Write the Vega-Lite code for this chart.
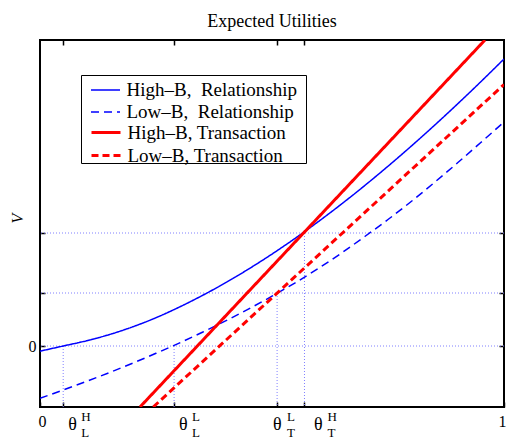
{
  "$schema": "https://vega.github.io/schema/vega-lite/v6.json",
  "width": 464,
  "height": 367,
  "autosize": {"type": "none"},
  "padding": {"left": 40, "top": 40, "right": 2, "bottom": 32},
  "title": {"text": "Expected Utilities", "font": "Liberation Serif", "fontSize": 18, "fontWeight": "normal", "color": "#000", "offset": 8},
  "config": {
    "view": {"stroke": "#000", "strokeWidth": 2},
    "axis": {"domain": false, "grid": false, "tickColor": "#000", "tickSize": -5, "tickWidth": 1.5, "labelFont": "Liberation Serif", "labelFontSize": 16, "labelColor": "#000", "titleColor": "#000"},
    "text": {"font": "Liberation Serif", "color": "#000", "align": "left", "baseline": "alphabetic"}
  },
  "resolve": {"scale": {"strokeDash": "independent", "color": "independent", "stroke": "independent"}},
  "layer": [
    {
      "data": {"values": [{"v": 0}, {"v": 0.53}, {"v": 1.13}]},
      "mark": {"type": "rule", "color": "#8080ff", "strokeDash": [1, 2], "strokeWidth": 1},
      "encoding": {
        "y": {"field": "v", "type": "quantitative", "scale": {"domain": [-0.61, 3.06], "nice": false, "zero": false},
          "axis": {"orient": "left", "values": [0, 0.53, 1.13], "labelExpr": "datum.value == 0 ? '0' : ''", "labelPadding": 9, "labelBaseline": "middle",
            "title": "V", "titleFont": "Liberation Serif", "titleFontSize": 16, "titleFontStyle": "italic", "titleFontWeight": "normal", "titleX": -18, "titleY": 178, "titleBaseline": "alphabetic", "titleAngle": -90}}
      }
    },
    {
      "data": {"values": [{"t": 0.05, "v": 0}, {"t": 0.289, "v": 0}, {"t": 0.511, "v": 0.53}, {"t": 0.57, "v": 1.13}]},
      "mark": {"type": "rule", "color": "#8080ff", "strokeDash": [1, 2], "strokeWidth": 1},
      "encoding": {
        "x": {"field": "t", "type": "quantitative", "scale": {"domain": [0, 1], "nice": false, "zero": false},
          "axis": {"orient": "bottom", "values": [0, 0.05, 0.289, 0.511, 0.57, 1], "labelExpr": "datum.value == 0 ? '0' : datum.value == 1 ? '1' : ''", "labelFlush": true, "labelFlushOffset": 2, "labelPadding": 11, "title": null}},
        "y": {"field": "v", "type": "quantitative", "axis": {"orient": "right", "values": [0, 0.53, 1.13], "labels": false, "title": null}},
        "y2": {"value": "height"}
      }
    },
    {
      "data": {"values": [
        {"s": "High–B,\u00a0 Relationship", "t": 0, "v": -0.052},
        {"s": "High–B,\u00a0 Relationship", "t": 0.05, "v": 0},
        {"s": "High–B,\u00a0 Relationship", "t": 0.1, "v": 0.052},
        {"s": "High–B,\u00a0 Relationship", "t": 0.15, "v": 0.115},
        {"s": "High–B,\u00a0 Relationship", "t": 0.2, "v": 0.192},
        {"s": "High–B,\u00a0 Relationship", "t": 0.25, "v": 0.283},
        {"s": "High–B,\u00a0 Relationship", "t": 0.3, "v": 0.3885},
        {"s": "High–B,\u00a0 Relationship", "t": 0.35, "v": 0.5053},
        {"s": "High–B,\u00a0 Relationship", "t": 0.4, "v": 0.6329},
        {"s": "High–B,\u00a0 Relationship", "t": 0.45, "v": 0.7711},
        {"s": "High–B,\u00a0 Relationship", "t": 0.5, "v": 0.9193},
        {"s": "High–B,\u00a0 Relationship", "t": 0.55, "v": 1.0771},
        {"s": "High–B,\u00a0 Relationship", "t": 0.6, "v": 1.2443},
        {"s": "High–B,\u00a0 Relationship", "t": 0.65, "v": 1.4204},
        {"s": "High–B,\u00a0 Relationship", "t": 0.7, "v": 1.605},
        {"s": "High–B,\u00a0 Relationship", "t": 0.75, "v": 1.7978},
        {"s": "High–B,\u00a0 Relationship", "t": 0.8, "v": 1.9982},
        {"s": "High–B,\u00a0 Relationship", "t": 0.85, "v": 2.2061},
        {"s": "High–B,\u00a0 Relationship", "t": 0.9, "v": 2.421},
        {"s": "High–B,\u00a0 Relationship", "t": 0.95, "v": 2.6424},
        {"s": "High–B,\u00a0 Relationship", "t": 1, "v": 2.87},
        {"s": "Low–B,\u00a0 Relationship", "t": 0, "v": -0.523},
        {"s": "Low–B,\u00a0 Relationship", "t": 0.05, "v": -0.44},
        {"s": "Low–B,\u00a0 Relationship", "t": 0.1, "v": -0.354},
        {"s": "Low–B,\u00a0 Relationship", "t": 0.15, "v": -0.265},
        {"s": "Low–B,\u00a0 Relationship", "t": 0.2, "v": -0.171},
        {"s": "Low–B,\u00a0 Relationship", "t": 0.25, "v": -0.073},
        {"s": "Low–B,\u00a0 Relationship", "t": 0.3, "v": 0.029},
        {"s": "Low–B,\u00a0 Relationship", "t": 0.35, "v": 0.137},
        {"s": "Low–B,\u00a0 Relationship", "t": 0.4, "v": 0.251},
        {"s": "Low–B,\u00a0 Relationship", "t": 0.45, "v": 0.371},
        {"s": "Low–B,\u00a0 Relationship", "t": 0.5, "v": 0.498},
        {"s": "Low–B,\u00a0 Relationship", "t": 0.55, "v": 0.632},
        {"s": "Low–B,\u00a0 Relationship", "t": 0.6, "v": 0.777},
        {"s": "Low–B,\u00a0 Relationship", "t": 0.65, "v": 0.93},
        {"s": "Low–B,\u00a0 Relationship", "t": 0.7, "v": 1.095},
        {"s": "Low–B,\u00a0 Relationship", "t": 0.75, "v": 1.265},
        {"s": "Low–B,\u00a0 Relationship", "t": 0.8, "v": 1.445},
        {"s": "Low–B,\u00a0 Relationship", "t": 0.85, "v": 1.635},
        {"s": "Low–B,\u00a0 Relationship", "t": 0.9, "v": 1.832},
        {"s": "Low–B,\u00a0 Relationship", "t": 0.95, "v": 2.035},
        {"s": "Low–B,\u00a0 Relationship", "t": 1, "v": 2.24}
      ]},
      "mark": {"type": "line", "interpolate": "monotone", "clip": true, "strokeWidth": 1.5},
      "encoding": {
        "x": {"field": "t", "type": "quantitative", "axis": {"orient": "top", "values": [0.05, 0.289, 0.511, 0.57], "labels": false, "title": null}},
        "y": {"field": "v", "type": "quantitative", "axis": null},
        "color": {"field": "s", "type": "nominal",
          "scale": {"domain": ["High–B,\u00a0 Relationship", "Low–B,\u00a0 Relationship"], "range": ["#0000ff", "#0000ff"]},
          "legend": {"orient": "none", "legendX": 41, "legendY": 35, "title": "\u00a0", "titleOrient": "bottom", "titleFontSize": 37, "titlePadding": 1, "strokeColor": "#000", "fillColor": "#fff", "padding": 4,
            "symbolType": "M-1.45,0H1.45", "symbolSize": 400, "symbolOffset": 9.5, "symbolStrokeWidth": 1.5, "labelOffset": 10, "labelFont": "Liberation Serif", "labelFontSize": 19, "labelColor": "#000", "rowPadding": 1, "labelLimit": 400,
            "labelExpr": "datum.label + '\u00a0\u200b'"}},
        "strokeDash": {"field": "s", "type": "nominal",
          "scale": {"domain": ["High–B,\u00a0 Relationship", "Low–B,\u00a0 Relationship"], "range": [[1, 0], [8, 5]]},
          "legend": {"orient": "none", "legendX": 41, "legendY": 35, "title": "\u00a0", "titleOrient": "bottom", "titleFontSize": 37, "titlePadding": 1, "strokeColor": "#000", "fillColor": "#fff", "padding": 4,
            "symbolType": "M-1.45,0H1.45", "symbolSize": 400, "symbolOffset": 9.5, "symbolStrokeWidth": 1.5, "labelOffset": 10, "labelFont": "Liberation Serif", "labelFontSize": 19, "labelColor": "#000", "rowPadding": 1, "labelLimit": 400,
            "labelExpr": "datum.label + '\u00a0\u200b'"}}
      }
    },
    {
      "data": {"values": [
        {"s": "High–B, Transaction", "t": 0.2155, "v": -0.61},
        {"s": "High–B, Transaction", "t": 0.959, "v": 3.06},
        {"s": "Low–B, Transaction", "t": 0.244, "v": -0.61},
        {"s": "Low–B, Transaction", "t": 1, "v": 2.615}
      ]},
      "mark": {"type": "line", "clip": true, "strokeWidth": 3},
      "encoding": {
        "x": {"field": "t", "type": "quantitative", "axis": null},
        "y": {"field": "v", "type": "quantitative", "axis": null},
        "stroke": {"field": "s", "type": "nominal",
          "scale": {"domain": ["High–B, Transaction", "Low–B, Transaction"], "range": ["#ff0000", "#ff0000"]},
          "legend": {"orient": "none", "legendX": 41, "legendY": 77, "title": null, "padding": 4,
            "symbolType": "M-1.45,0H1.45", "symbolSize": 400, "symbolOffset": 9.5, "symbolStrokeWidth": 3, "labelOffset": 10, "labelFont": "Liberation Serif", "labelFontSize": 19, "labelColor": "#000", "rowPadding": 1, "labelLimit": 400}},
        "strokeDash": {"field": "s", "type": "nominal",
          "scale": {"domain": ["High–B, Transaction", "Low–B, Transaction"], "range": [[1, 0], [7, 4]]},
          "legend": {"orient": "none", "legendX": 41, "legendY": 77, "title": null, "padding": 4,
            "symbolType": "M-1.45,0H1.45", "symbolSize": 400, "symbolOffset": 9.5, "symbolStrokeWidth": 3, "labelOffset": 10, "labelFont": "Liberation Serif", "labelFontSize": 19, "labelColor": "#000", "rowPadding": 1, "labelLimit": 400}}
      }
    },
    {
      "data": {"values": [{"t": 0.05}, {"t": 0.289}]},
      "mark": {"type": "text", "dx": 5, "dy": 23, "fontSize": 18},
      "encoding": {"x": {"field": "t", "type": "quantitative", "axis": null}, "y": {"value": "height"}, "text": {"value": "θ"}}
    },
    {
      "data": {"values": [{"t": 0.511}]},
      "mark": {"type": "text", "dx": -4, "dy": 23, "fontSize": 18},
      "encoding": {"x": {"field": "t", "type": "quantitative", "axis": null}, "y": {"value": "height"}, "text": {"value": "θ"}}
    },
    {
      "data": {"values": [{"t": 0.57}]},
      "mark": {"type": "text", "dx": 9.5, "dy": 23, "fontSize": 18},
      "encoding": {"x": {"field": "t", "type": "quantitative", "axis": null}, "y": {"value": "height"}, "text": {"value": "θ"}}
    },
    {
      "data": {"values": [{"t": 0.05, "s": "H"}, {"t": 0.289, "s": "L"}]},
      "mark": {"type": "text", "dx": 18, "dy": 14, "fontSize": 13},
      "encoding": {"x": {"field": "t", "type": "quantitative", "axis": null}, "y": {"value": "height"}, "text": {"field": "s"}}
    },
    {
      "data": {"values": [{"t": 0.511, "s": "L"}]},
      "mark": {"type": "text", "dx": 10, "dy": 14, "fontSize": 13},
      "encoding": {"x": {"field": "t", "type": "quantitative", "axis": null}, "y": {"value": "height"}, "text": {"field": "s"}}
    },
    {
      "data": {"values": [{"t": 0.57, "s": "H"}]},
      "mark": {"type": "text", "dx": 23, "dy": 14, "fontSize": 13},
      "encoding": {"x": {"field": "t", "type": "quantitative", "axis": null}, "y": {"value": "height"}, "text": {"field": "s"}}
    },
    {
      "data": {"values": [{"t": 0.05, "s": "L"}, {"t": 0.289, "s": "L"}]},
      "mark": {"type": "text", "dx": 18, "dy": 29.5, "fontSize": 13},
      "encoding": {"x": {"field": "t", "type": "quantitative", "axis": null}, "y": {"value": "height"}, "text": {"field": "s"}}
    },
    {
      "data": {"values": [{"t": 0.511, "s": "T"}]},
      "mark": {"type": "text", "dx": 10, "dy": 29.5, "fontSize": 13},
      "encoding": {"x": {"field": "t", "type": "quantitative", "axis": null}, "y": {"value": "height"}, "text": {"field": "s"}}
    },
    {
      "data": {"values": [{"t": 0.57, "s": "T"}]},
      "mark": {"type": "text", "dx": 23, "dy": 29.5, "fontSize": 13},
      "encoding": {"x": {"field": "t", "type": "quantitative", "axis": null}, "y": {"value": "height"}, "text": {"field": "s"}}
    }
  ]
}
